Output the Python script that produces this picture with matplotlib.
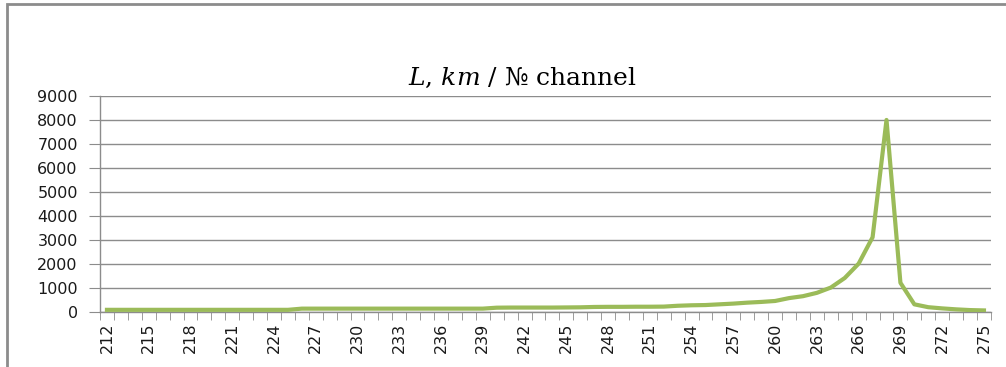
import matplotlib.pyplot as plt
from matplotlib.patches import Rectangle
import numpy as np

channels = list(range(212, 276))
distance = [70] * 14 + [120] * 14 + [160, 165, 165, 165, 165, 170, 175,
                                     190, 195, 195, 200, 200, 205,
                                     240, 260, 270, 300, 330, 370, 400, 440,
                                     560, 640, 780, 1000, 1400, 2000, 3100, 8000,
                                     1200, 300, 180, 130, 90, 60, 45]

fig = plt.figure(figsize=(10.06, 3.67), dpi=100)
ax = fig.add_axes([0.0994, 0.1512, 0.8856, 0.5872])

x = np.arange(len(channels))
ax.plot(x, distance, color='#9BBB59', linewidth=3, solid_joinstyle='round', zorder=3)

ax.set_xlim(-0.5, len(channels) - 0.5)
ax.set_ylim(0, 9000)
ax.set_yticks(range(0, 9001, 1000))
ax.grid(axis='y', color='#8c8c8c', linewidth=1)
ax.set_axisbelow(True)

for side in ('top', 'right'):
    ax.spines[side].set_visible(False)
for side in ('left', 'bottom'):
    ax.spines[side].set_color('#8c8c8c')
    ax.spines[side].set_linewidth(1)

ax.tick_params(axis='y', length=8, color='#8c8c8c', labelsize=11.5, pad=8, labelcolor='#1a1a1a')

# labels on every third channel, tick marks between all categories
ax.set_xticks(x[::3])
ax.set_xticklabels([str(c) for c in channels[::3]], rotation=90, fontsize=11.5)
ax.set_xticks(np.arange(-0.5, len(channels), 1), minor=True)
ax.tick_params(axis='x', which='major', length=0, pad=8, labelcolor='#1a1a1a')
ax.tick_params(axis='x', which='minor', length=6, color='#8c8c8c')

fig.text(0.519, 0.768, r'$L$, $km$ / № channel', ha='center', va='baseline',
         family='DejaVu Serif', fontsize=18, math_fontfamily='dejavuserif')

# chart frame
fig.patches.append(Rectangle((7 / 1006, -0.1), 1.1, 1.1 - 4.5 / 367,
                             transform=fig.transFigure, fill=False,
                             edgecolor='#8c8c8c', linewidth=2))

fig.savefig('out.png', dpi=100)
